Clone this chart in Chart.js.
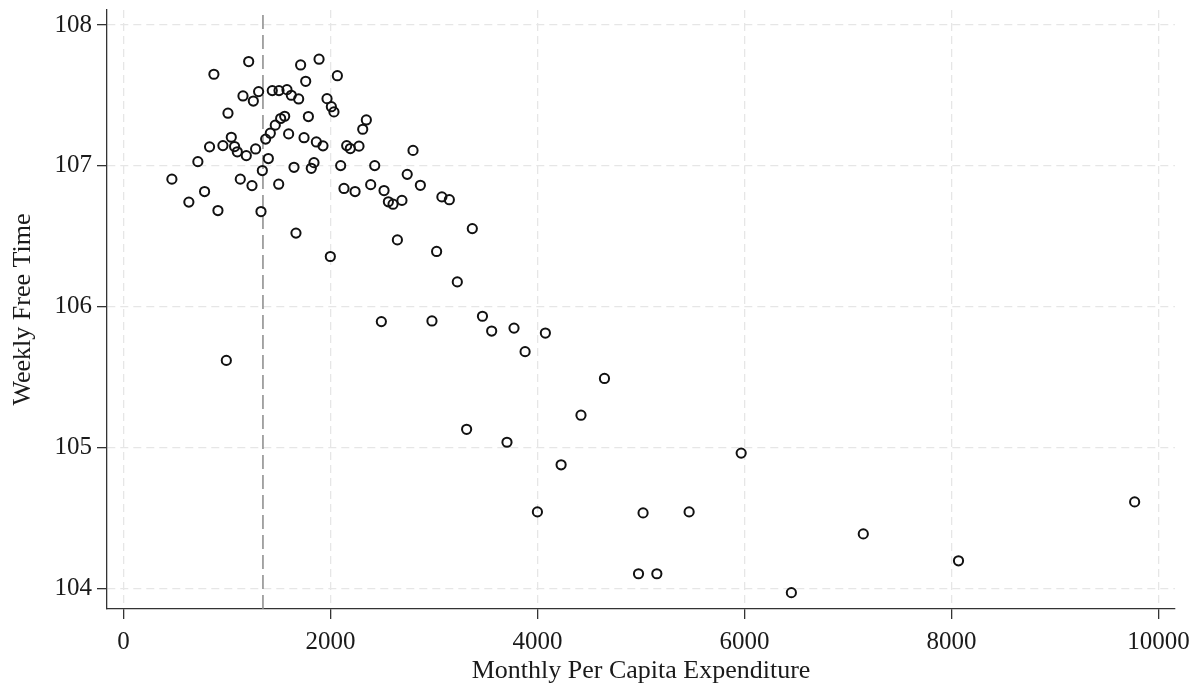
<!DOCTYPE html>
<html>
<head>
<meta charset="utf-8">
<script src="https://cdn.jsdelivr.net/npm/chart.js@4"></script>
<style>
html,body{margin:0;padding:0;background:#fff;}
#wrap{width:1202px;height:687px;}
</style>
</head>
<body>
<div id="wrap"><canvas id="c" width="1202" height="687"></canvas></div>
<script>
// Monthly per capita expenditure (x) and weekly free time (y)
const expenditure = [467,631,783,912,873,718,831,1009,960,1041,1073,1099,1186,1276,1128,1241,1341,1328,1209,1154,1254,1305,1373,1418,1399,1466,1518,1557,1437,1502,1579,1621,1692,1499,1595,1647,1711,1760,1889,1786,1744,1863,1927,1840,1814,1966,2008,2033,2066,2098,2130,2237,2156,2191,2275,2311,2346,2427,2388,2517,2559,2604,2797,2741,2868,2690,3076,3148,993,1666,1998,2491,2646,3025,3370,3225,2980,3468,3557,3773,4076,3880,4647,4420,3315,3705,4228,3999,5968,5020,5465,4976,5153,6453,7148,8068,9770];
const freeTime = [106.906,106.743,106.818,106.683,107.65,107.03,107.135,107.374,107.144,107.203,107.137,107.10,107.073,107.12,106.906,106.86,106.967,106.676,107.74,107.496,107.46,107.527,107.19,107.232,107.052,107.289,107.336,107.352,107.534,107.534,107.541,107.501,107.475,106.87,107.227,106.99,107.716,107.60,107.757,107.35,107.20,107.17,107.142,107.023,106.983,107.477,107.42,107.383,107.64,107.002,106.84,106.818,107.144,107.123,107.14,107.26,107.326,107.002,106.867,106.825,106.745,106.728,107.11,106.94,106.862,106.755,106.78,106.76,105.62,106.523,106.357,105.895,106.475,106.393,106.555,106.177,105.90,105.933,105.828,105.849,105.814,105.682,105.492,105.231,105.131,105.039,104.879,104.545,104.962,104.538,104.545,104.106,104.106,103.972,104.389,104.198,104.616];
const refLineX = 1347;
const xTicks = [0,2000,4000,6000,8000,10000];
const yTicks = [104,105,106,107,108];
const xRange = [-160, 10160];
const yRange = [103.856, 108.106];

const points = expenditure.map((x,i)=>({x:x,y:freeTime[i]}));
const refLine = [{x:refLineX,y:yRange[0]},{x:refLineX,y:yRange[1]}];

const FONT = "'Liberation Serif','Times New Roman',serif";
const TEXT = '#1a1a1a';

new Chart(document.getElementById('c'), {
  type: 'scatter',
  data: {
    datasets: [
      {
        data: points,
        pointRadius: 4.6,
        pointHoverRadius: 4.6,
        pointBorderWidth: 2,
        pointBorderColor: '#111',
        pointBackgroundColor: 'rgba(0,0,0,0)',
        showLine: false,
        order: 1
      },
      {
        type: 'line',
        data: refLine,
        borderColor: '#8a8a8a',
        borderWidth: 1.5,
        borderDash: [14,6],
        pointRadius: 0,
        fill: false,
        order: 2
      }
    ]
  },
  options: {
    responsive: false,
    animation: false,
    events: [],
    layout: { padding: { top: 10, right: 27, left: 0, bottom: 0 } },
    plugins: { legend: { display: false }, tooltip: { enabled: false } },
    scales: {
      x: {
        type: 'linear',
        min: xRange[0], max: xRange[1],
        afterBuildTicks: s => { s.ticks = xTicks.map(v=>({value:v})); },
        afterFit: s => { s.height = 78; s.paddingLeft = 0; s.paddingRight = 0; },
        ticks: { font: { family: FONT, size: 25 }, color: TEXT, padding: 8, maxRotation: 0,
                 callback: v => String(v) },
        grid: { color: '#e6e6e6', lineWidth: 1.3, tickLength: 10, tickColor: '#333', tickWidth: 1.3, tickBorderDash: [] },
        border: { display: true, color: '#333', width: 1.3, dash: [8,5] },
        title: { display: true, text: 'Monthly Per Capita Expenditure', font: { family: FONT, size: 26 }, color: TEXT, padding: { top: 0, bottom: 0 } }
      },
      y: {
        type: 'linear',
        min: yRange[0], max: yRange[1],
        afterBuildTicks: s => { s.ticks = yTicks.map(v=>({value:v})); },
        afterFit: s => { s.width = 107; s.paddingTop = 0; s.paddingBottom = 0; },
        ticks: { font: { family: FONT, size: 25 }, color: TEXT, padding: 5,
                 callback: v => String(v) },
        grid: { color: '#e6e6e6', lineWidth: 1.3, tickLength: 10, tickColor: '#333', tickWidth: 1.3, tickBorderDash: [] },
        border: { display: true, color: '#333', width: 1.3, dash: [8,5] },
        title: { display: true, text: 'Weekly Free Time', font: { family: FONT, size: 26 }, color: TEXT, padding: { top: 8, bottom: 0 } }
      }
    }
  }
});
</script>
</body>
</html>
